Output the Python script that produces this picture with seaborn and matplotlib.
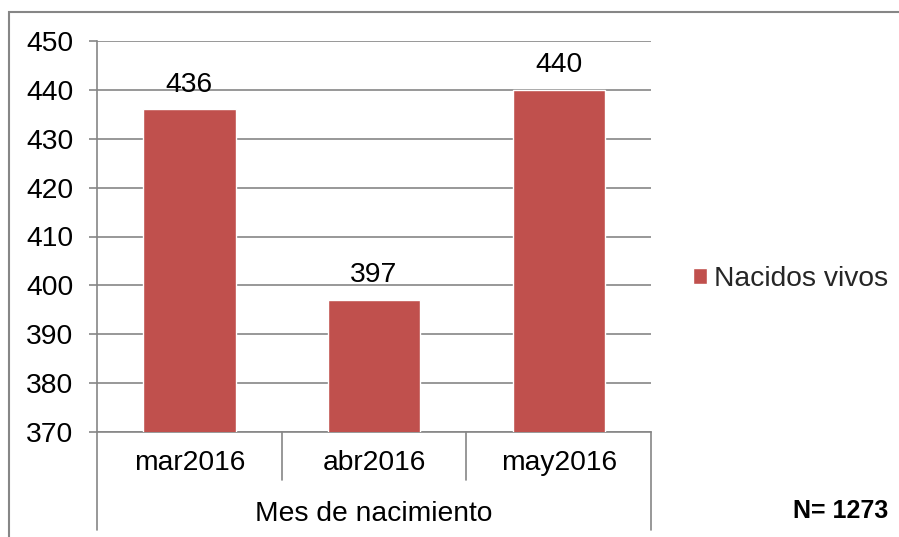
import matplotlib
matplotlib.use("Agg")
import matplotlib.pyplot as plt
import matplotlib.transforms as mtransforms
from matplotlib.patches import Rectangle
import seaborn as sns
import pandas as pd

categories = ["mar2016", "abr2016", "may2016"]
values = [436, 397, 440]
series_name = "Nacidos vivos"
axis_title = "Mes de nacimiento"
note = "N= 1273"
yticks = [370, 380, 390, 400, 410, 420, 430, 440, 450]

sns.set_theme(style="white")
plt.rcParams["font.family"] = ["Liberation Sans", "DejaVu Sans"]

W, H = 899, 537
FS = 20.3
fig = plt.figure(figsize=(W / 100, H / 100), dpi=100)
fig.patch.set_facecolor("white")
ax = fig.add_axes([97 / W, 1 - 432 / H, (651 - 97) / W, (432 - 41) / H])

df = pd.DataFrame({"Mes": categories, "Valor": values})
sns.barplot(data=df, x="Mes", y="Valor", color="#C0504D", width=0.5,
            saturation=1, label=series_name, ax=ax, zorder=3)

grey = "#868686"
ax.set_ylim(yticks[0], yticks[-1])
ax.set_yticks(yticks)
ax.set_xlim(-0.5, len(categories) - 0.5)
ax.yaxis.grid(True, color=grey, linewidth=1.2, zorder=0)
ax.set_axisbelow(True)
for s in ["top", "right"]:
    ax.spines[s].set_visible(False)
for s in ["left", "bottom"]:
    ax.spines[s].set_color(grey)
    ax.spines[s].set_linewidth(1.2)
ax.tick_params(axis="y", length=6, width=1.2, color=grey, pad=11,
               labelsize=FS, labelcolor="black", left=True)
ax.tick_params(axis="x", length=0, pad=13, labelsize=FS, labelcolor="black")
ax.set_xlabel("")
ax.set_ylabel("")

for c in ax.containers:
    ax.bar_label(c, labels=[str(v) for v in values], padding=8.5,
                 fontsize=FS, color="black")

trans = mtransforms.blended_transform_factory(ax.transData, ax.transAxes)
inner = -48 / 391
outer = -98 / 391
for i in range(1, len(categories)):
    ax.plot([i - 0.5, i - 0.5], [0, inner], transform=trans, color=grey,
            lw=1.2, clip_on=False)
for xv in [-0.5, len(categories) - 0.5]:
    ax.plot([xv, xv], [0, outer], transform=trans, color=grey,
            lw=1.2, clip_on=False)

fig.text(374 / W, 1 - 514 / H, axis_title, ha="center", va="center",
         fontsize=FS, color="black")
fig.text(888 / W, 1 - 511 / H, note, ha="right", va="center",
         fontsize=18, fontweight="bold", color="black")

leg = ax.legend(loc="center left", bbox_to_anchor=(693 / W, 1 - 279 / H),
                bbox_transform=fig.transFigure, frameon=False, fontsize=FS,
                handlelength=0.5, handleheight=0.5, handletextpad=0.25,
                borderpad=0, borderaxespad=0)

fig.patches.append(Rectangle((9 / W, -0.1), 1.2, 1.1 - 12 / H,
                             transform=fig.transFigure, fill=False,
                             edgecolor=grey, linewidth=1.5))

fig.savefig("out.png", dpi=100)
